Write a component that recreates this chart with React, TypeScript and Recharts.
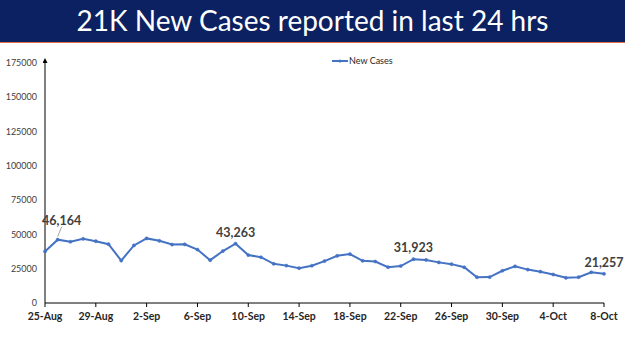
import React from 'react';
import { LineChart, Line, XAxis, YAxis, Legend, LabelList } from 'recharts';

const dates = [
  '25-Aug', '26-Aug', '27-Aug', '28-Aug', '29-Aug', '30-Aug', '31-Aug',
  '1-Sep', '2-Sep', '3-Sep', '4-Sep', '5-Sep', '6-Sep', '7-Sep', '8-Sep', '9-Sep',
  '10-Sep', '11-Sep', '12-Sep', '13-Sep', '14-Sep', '15-Sep', '16-Sep', '17-Sep',
  '18-Sep', '19-Sep', '20-Sep', '21-Sep', '22-Sep', '23-Sep', '24-Sep', '25-Sep',
  '26-Sep', '27-Sep', '28-Sep', '29-Sep', '30-Sep', '1-Oct', '2-Oct', '3-Oct',
  '4-Oct', '5-Oct', '6-Oct', '7-Oct', '8-Oct',
];

const newCases = [
  37593, 46164, 44658, 46759, 45083, 42909, 30941,
  41965, 47092, 45352, 42618, 42766, 38948, 31222, 37875, 43263,
  34973, 33376, 28591, 27254, 25404, 27176, 30570, 34403,
  35662, 30773, 30256, 26115, 26964, 31923, 31382, 29616,
  28326, 26041, 18795, 18870, 23529, 26727, 24354, 22842,
  20799, 18346, 18833, 22431, 21257,
];

// dates that get a value callout
const labelledDates = ['26-Aug', '9-Sep', '23-Sep', '8-Oct'];

const yTicks = [0, 25000, 50000, 75000, 100000, 125000, 150000, 175000];

const title = '21K New Cases reported in last 24 hrs';

const LINE_COLOR = '#4472C4';

const chartData = dates.map((d, i) => ({ date: d, cases: newCases[i] }));

const CalloutLabel = (props: any) => {
  const { x, y, value, index } = props;
  if (!labelledDates.includes(dates[index])) return null;
  const text = Number(value).toLocaleString('en-US');
  // first callout sits higher with a leader line
  if (index === 1) {
    return (
      <g>
        <line x1={x} y1={y - 3} x2={x + 4} y2={y - 13} stroke="#a6a6a6" strokeWidth={1} />
        <text x={x + 4} y={y - 15} textAnchor="middle" fontSize={12.5} fontWeight={700} fill="#404040" fontFamily="Lato">
          {text}
        </text>
      </g>
    );
  }
  return (
    <text x={x} y={y - 7} textAnchor="middle" fontSize={12.5} fontWeight={700} fill="#404040" fontFamily="Lato">
      {text}
    </text>
  );
};

const LegendContent = () => (
  <div style={{ display: 'flex', alignItems: 'center', fontFamily: 'Lato', fontSize: 9, color: '#262626' }}>
    <svg width={16} height={6}>
      <line x1={0} y1={3} x2={16} y2={3} stroke={LINE_COLOR} strokeWidth={2} />
      <circle cx={8} cy={3} r={1.6} fill={LINE_COLOR} />
    </svg>
    <span style={{ marginLeft: 1 }}>New Cases</span>
  </div>
);

export default function App() {
  return (
    <div style={{ position: 'absolute', left: 0, top: 0, width: 625, height: 351, background: '#fff', overflow: 'hidden' }}>
      <svg width={0} height={0} style={{ position: 'absolute' }}>
        <defs>
          <marker id="yArrow" viewBox="0 0 10 10" refX={5} refY={10} markerWidth={5} markerHeight={5} orient="0">
            <path d="M0,10 L5,0 L10,10 Z" fill="#000" />
          </marker>
        </defs>
      </svg>
      <div
        style={{
          height: 42,
          background: '#0b2161',
          borderBottom: '1.5px solid #e07040',
          color: '#fff',
          fontFamily: 'Lato',
          fontSize: 28,
          lineHeight: '41px',
          textAlign: 'center',
        }}
      >
        {title}
      </div>
      <div style={{ position: 'absolute', left: 0, top: 44 }}>
        <LineChart width={625} height={307} data={chartData} margin={{ top: 19, right: 21, left: 0, bottom: 16 }}>
          <XAxis
            dataKey="date"
            interval={3}
            height={32}
            stroke="#000"
            tickSize={4}
            tickMargin={6}
            tick={{ fontSize: 10.5, fontWeight: 700, fill: '#262626', fontFamily: 'Lato' }}
          />
          <YAxis
            width={45}
            domain={[0, 175000]}
            ticks={yTicks}
            tickLine={false}
            tickSize={6}
            tickMargin={2}
            axisLine={{ stroke: '#000', markerStart: 'url(#yArrow)' }}
            tick={{ fontSize: 9, fill: '#404040', fontFamily: 'Lato' }}
          />
          <Legend
            verticalAlign="middle"
            align="center"
            content={<LegendContent />}
            wrapperStyle={{ top: 11, left: 332, width: 'auto' }}
          />
          <Line
            dataKey="cases"
            name="New Cases"
            stroke={LINE_COLOR}
            strokeWidth={2}
            dot={{ r: 1.6, fill: LINE_COLOR, stroke: LINE_COLOR, strokeWidth: 0.5 }}
            isAnimationActive={false}
          >
            <LabelList dataKey="cases" content={<CalloutLabel />} />
          </Line>
        </LineChart>
      </div>
    </div>
  );
}
